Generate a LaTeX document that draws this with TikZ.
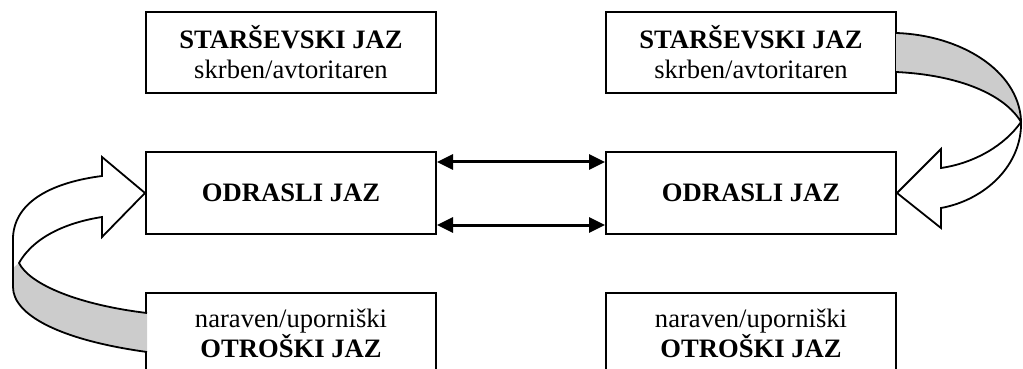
\documentclass[tikz,border=0pt]{standalone}
\usepackage{fontspec}
\setmainfont{Liberation Serif}
\usetikzlibrary{arrows.meta}
\definecolor{bandgray}{RGB}{204,204,204}
\tikzset{
  box/.style={draw, line width=1pt, minimum width=145pt, minimum height=40.5pt, inner sep=0pt, align=center, font=\fontsize{13.3}{15}\selectfont},
  dblarrow/.style={line width=1.5pt, {Triangle[length=8pt,width=7.5pt]}-{Triangle[length=8pt,width=7.5pt]}},
  ribbon/.style={line width=0.9pt, line join=miter},
}
\begin{document}
\begin{tikzpicture}[x=0.5pt,y=-0.5pt]
\useasboundingbox (0,0) rectangle (1023,369);
\clip (0,0) rectangle (1023,369);
% boxes
\node[box] (pl) at (291,52.5) {\textbf{STARŠEVSKI JAZ}\\skrben/avtoritaren};
\node[box] (pr) at (751,52.5) {\textbf{STARŠEVSKI JAZ}\\skrben/avtoritaren};
\node[box] (ml) at (291,193) {\textbf{ODRASLI JAZ}};
\node[box] (mr) at (751,193) {\textbf{ODRASLI JAZ}};
\node[box] (bl) at (291,333.5) {naraven/uporniški\\\textbf{OTROŠKI JAZ}};
\node[box] (br) at (751,333.5) {naraven/uporniški\\\textbf{OTROŠKI JAZ}};
% double arrows
\draw[dblarrow] ([yshift=15.5pt]ml.east) -- ([yshift=15.5pt]mr.west);
\draw[dblarrow] ([yshift=-16pt]ml.east) -- ([yshift=-16pt]mr.west);
% left ribbon arrow
\fill[bandgray] (19,263) .. controls (30,285) and (80,305) .. (147,313) -- (147,352) .. controls (60,340) and (13,315) .. (13,287) -- (13,268) -- cycle;
\draw[ribbon] (147,352) .. controls (60,340) and (13,315) .. (13,287) -- (13,237) .. controls (15,200) and (55,182) .. (102,176) -- (102,157) -- (ml.west) -- (102,237) -- (102,217) .. controls (70,222) and (35,235) .. (19,263) .. controls (30,285) and (80,305) .. (147,313);
% right ribbon arrow
\fill[bandgray] (896,33) .. controls (960,35) and (1018,70) .. (1021,120) .. controls (1005,95) and (960,75) .. (896,72) -- cycle;
\draw[ribbon] (896,33) .. controls (960,35) and (1018,70) .. (1021,120) .. controls (1023,165) and (985,200) .. (941,208) -- (941,228) -- (mr.east) -- (941,149) -- (941,168) .. controls (975,163) and (1005,145) .. (1021,122) .. controls (1005,95) and (960,75) .. (896,72);
\end{tikzpicture}
\end{document}
